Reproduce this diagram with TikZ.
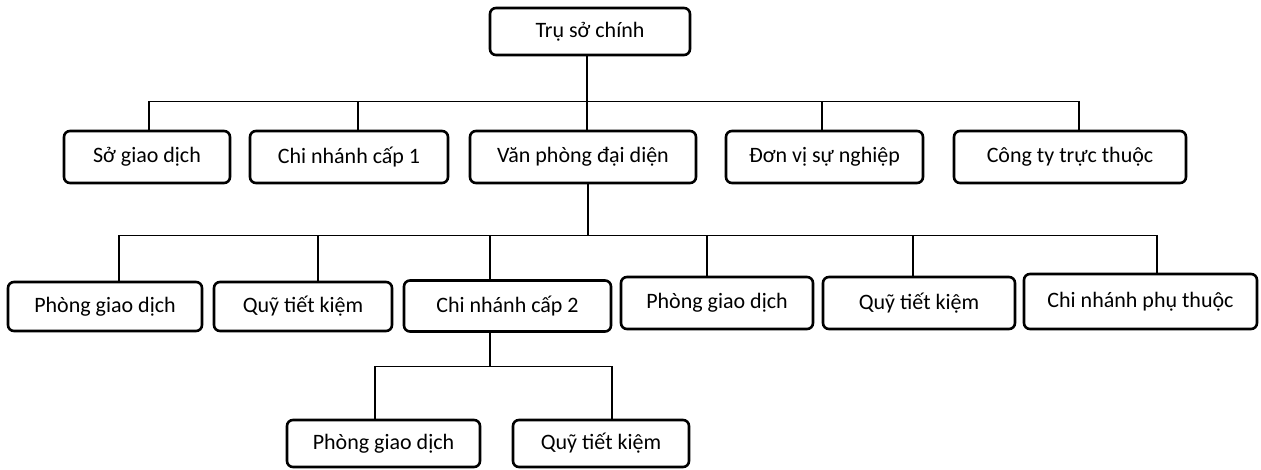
\documentclass[tikz,border=0pt]{standalone}
\usepackage{fontspec}
\setmainfont{Carlito}
\usepackage{tikz}

\begin{document}
\begin{tikzpicture}[x=1pt,y=1pt]
\tikzstyle{every node}+=[inner sep=0pt]
\tikzstyle{unit}=[draw, rounded corners=6pt, line width=2.6pt, minimum height=52pt, font=\fontsize{22}{26}\selectfont]
\tikzstyle{link}=[line width=1.3pt]
\useasboundingbox (0,0) rectangle (1261,-470);
\node [unit, minimum width=200pt, minimum height=47pt] (tru) at (590,-31.5) {Trụ sở chính};
\node [unit, minimum width=166pt] (sgd) at (147,-157) {Sở giao dịch};
\node [unit, minimum width=198pt] (cn1) at (349,-157) {Chi nhánh cấp 1};
\node [unit, minimum width=226pt] (vp) at (583,-157) {Văn phòng đại diện};
\node [unit, minimum width=197pt] (dv) at (824.5,-157) {Đơn vị sự nghiệp};
\node [unit, minimum width=232pt] (ct) at (1070,-157) {Công ty trực thuộc};
\node [unit, minimum width=194pt, minimum height=49pt] (pgd) at (105,-306.5) {Phòng giao dịch};
\node [unit, minimum width=178pt, minimum height=49pt] (qtk) at (303,-306.5) {Quỹ tiết kiệm};
\node [unit, minimum width=207pt, minimum height=51pt] (cn2) at (507.5,-306) {Chi nhánh cấp 2};
\node [unit, minimum width=192pt, minimum height=52pt] (pgdb) at (717,-303) {Phòng giao dịch};
\node [unit, minimum width=192pt, minimum height=52pt] (qtkb) at (919,-303) {Quỹ tiết kiệm};
\node [unit, minimum width=233pt, minimum height=55pt] (cnpt) at (1140.5,-301.5) {Chi nhánh phụ thuộc};
\node [unit, minimum width=193pt, minimum height=47pt] (pgdc) at (383.5,-443.5) {Phòng giao dịch};
\node [unit, minimum width=176pt, minimum height=47pt] (qtkc) at (601,-443.5) {Quỹ tiết kiệm};
\draw [link] ([xshift=-3]tru.south) -- ++(0,-45) -| ([xshift=2]sgd.north);
\draw [link] ([xshift=-3]tru.south) -- ++(0,-45) -| ([xshift=9]cn1.north);
\draw [link] ([xshift=-3]tru.south) -- ++(0,-45) -| ([xshift=4]vp.north);
\draw [link] ([xshift=-3]tru.south) -- ++(0,-45) -| ([xshift=-2.5]dv.north);
\draw [link] ([xshift=-3]tru.south) -- ++(0,-45) -| ([xshift=9]ct.north);
\draw [link] ([xshift=5]vp.south) -- ++(0,-51) -| ([xshift=14]pgd.north);
\draw [link] ([xshift=5]vp.south) -- ++(0,-51) -| ([xshift=15]qtk.north);
\draw [link] ([xshift=5]vp.south) -- ++(0,-51) -| ([xshift=-17.5]cn2.north);
\draw [link] ([xshift=5]vp.south) -- ++(0,-51) -| ([xshift=-10]pgdb.north);
\draw [link] ([xshift=5]vp.south) -- ++(0,-51) -| ([xshift=-6]qtkb.north);
\draw [link] ([xshift=5]vp.south) -- ++(0,-51) -| ([xshift=16.5]cnpt.north);
\draw [link] ([xshift=-17.5]cn2.south) -- ++(0,-34) -| ([xshift=-8.5]pgdc.north);
\draw [link] ([xshift=-17.5]cn2.south) -- ++(0,-34) -| ([xshift=11]qtkc.north);
\end{tikzpicture}
\end{document}
